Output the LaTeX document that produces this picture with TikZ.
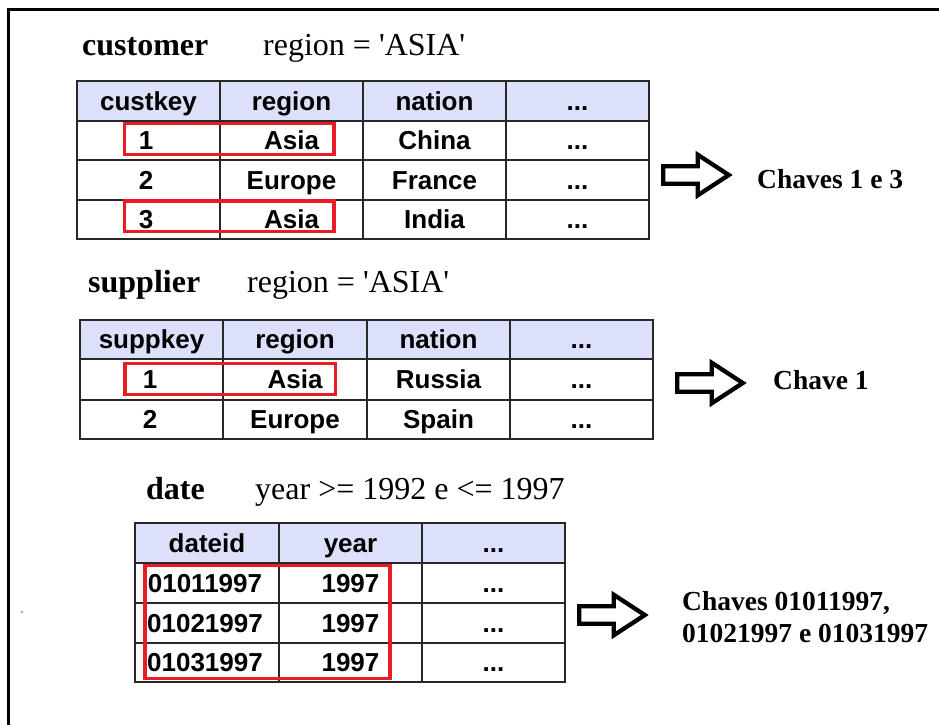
\documentclass[tikz,border=0pt]{standalone}
\usepackage{fontspec}
\setmainfont{Liberation Serif}
\newfontfamily\cellfont{Liberation Sans}
\definecolor{headfill}{RGB}{220,224,250}
\definecolor{hitred}{RGB}{232,28,36}
\definecolor{gridcol}{RGB}{40,40,40}
\definecolor{speck}{RGB}{220,130,40}

\tikzset{
  title/.style={anchor=base west, inner sep=0pt, font=\fontsize{32}{38}\selectfont\bfseries},
  cond/.style={anchor=base west, inner sep=0pt, font=\fontsize{32}{38}\selectfont},
  cell/.style={anchor=base, inner sep=0pt, font=\cellfont\fontsize{26}{30}\selectfont\bfseries},
  gridline/.style={draw=gridcol, line width=1.8pt, line cap=rect},
  hit/.style={draw=hitred, line width=3.3pt},
  result/.style={anchor=base west, inner sep=0pt, font=\fontsize{27.5}{32}\selectfont\bfseries},
  pics/bigarrow/.style={code={
    \draw[line width=4.3pt, line join=miter, fill=white]
      (2.2,-8.8) -- (36.7,-8.8) -- (36.7,-20.3) -- (67.8,0) -- (36.7,20.3)
      -- (36.7,8.8) -- (2.2,8.8) -- cycle;
  }}
}

\begin{document}
\begin{tikzpicture}[x=1pt,y=-1pt]
\path[use as bounding box] (0,0) rectangle (939,724);

% page frame (right and bottom edges run off the sheet)
\draw[line width=3pt, line cap=rect] (8.5,724) -- (8.5,9) -- (939,9);
\fill[speck] (22,612) circle (1.2);

% ---------------- customer ----------------
\node[title] (custTitle) at (82,55) {customer};
\node[cond]  (custCond)  at (263,55) {region = \textquotesingle ASIA\textquotesingle};

\fill[headfill] (77,81) rectangle (649,121);
\foreach \y in {81,121,160,200,239} \draw[gridline] (77,\y) -- (649,\y);
\foreach \x in {77,220,363,506,649} \draw[gridline] (\x,81) -- (\x,239);

\node[cell] (cH1) at (148.5,110.3) {custkey};
\node[cell] (cH2) at (291.5,110.3) {region};
\node[cell] (cH3) at (434.5,110.3) {nation};
\node[cell] (cH4) at (577.5,110.3) {...};
\node[cell] (c11) at (146,149.8) {1};
\node[cell] (c12) at (291.5,149.8) {Asia};
\node[cell] (c13) at (434.5,149.8) {China};
\node[cell] (c14) at (577.5,149.8) {...};
\node[cell] (c21) at (146,189.3) {2};
\node[cell] (c22) at (291.5,189.3) {Europe};
\node[cell] (c23) at (434.5,189.3) {France};
\node[cell] (c24) at (577.5,189.3) {...};
\node[cell] (c31) at (146,228.8) {3};
\node[cell] (c32) at (291.5,228.8) {Asia};
\node[cell] (c33) at (434.5,228.8) {India};
\node[cell] (c34) at (577.5,228.8) {...};

\draw[hit] (124.5,123.5) rectangle (334,154.5);
\draw[hit] (124.5,201) rectangle (334,231.5);

\pic at (661,175) {bigarrow};
\node[result] (custKeys) at (757,188) {Chaves 1 e 3};

% ---------------- supplier ----------------
\node[title] (suppTitle) at (88,292) {supplier};
\node[cond]  (suppCond)  at (247,292) {region = \textquotesingle ASIA\textquotesingle};

\fill[headfill] (80,320) rectangle (653,359);
\foreach \y in {320,359,400,439} \draw[gridline] (80,\y) -- (653,\y);
\foreach \x in {80,223,367,510,653} \draw[gridline] (\x,320) -- (\x,439);

\node[cell] (sH1) at (151.5,348.8) {suppkey};
\node[cell] (sH2) at (295,348.8) {region};
\node[cell] (sH3) at (438.5,348.8) {nation};
\node[cell] (sH4) at (581.5,348.8) {...};
\node[cell] (s11) at (150,388.8) {1};
\node[cell] (s12) at (295,388.8) {Asia};
\node[cell] (s13) at (438.5,388.8) {Russia};
\node[cell] (s14) at (581.5,388.8) {...};
\node[cell] (s21) at (150,428.3) {2};
\node[cell] (s22) at (295,428.3) {Europe};
\node[cell] (s23) at (438.5,428.3) {Spain};
\node[cell] (s24) at (581.5,428.3) {...};

\draw[hit] (125,363.5) rectangle (335.5,394.5);

\pic at (675,383) {bigarrow};
\node[result] (suppKeys) at (773,389) {Chave 1};

% ---------------- date ----------------
\node[title] (dateTitle) at (146,499) {date};
\node[cond]  (dateCond)  at (255,499) {year >= 1992 e <= 1997};

\fill[headfill] (135,523) rectangle (565,563);
\foreach \y in {523,563,603,643,682} \draw[gridline] (135,\y) -- (565,\y);
\foreach \x in {135,279,422,565} \draw[gridline] (\x,523) -- (\x,682);

\node[cell] (dH1) at (207,552.3) {dateid};
\node[cell] (dH2) at (350.5,552.3) {year};
\node[cell] (dH3) at (493.5,552.3) {...};
\node[cell] (d11) at (205,592.3) {01011997};
\node[cell] (d12) at (350.5,592.3) {1997};
\node[cell] (d13) at (493.5,592.3) {...};
\node[cell] (d21) at (205,632.3) {01021997};
\node[cell] (d22) at (350.5,632.3) {1997};
\node[cell] (d23) at (493.5,632.3) {...};
\node[cell] (d31) at (205,671.8) {01031997};
\node[cell] (d32) at (350.5,671.8) {1997};
\node[cell] (d33) at (493.5,671.8) {...};

\draw[hit] (145,565.5) rectangle (390,678.5);

\pic at (577,615) {bigarrow};
\node[result] (dateKeysA) at (682,610) {Chaves 01011997,};
\node[result] (dateKeysB) at (682,642) {01021997 e 01031997};

\end{tikzpicture}
\end{document}
